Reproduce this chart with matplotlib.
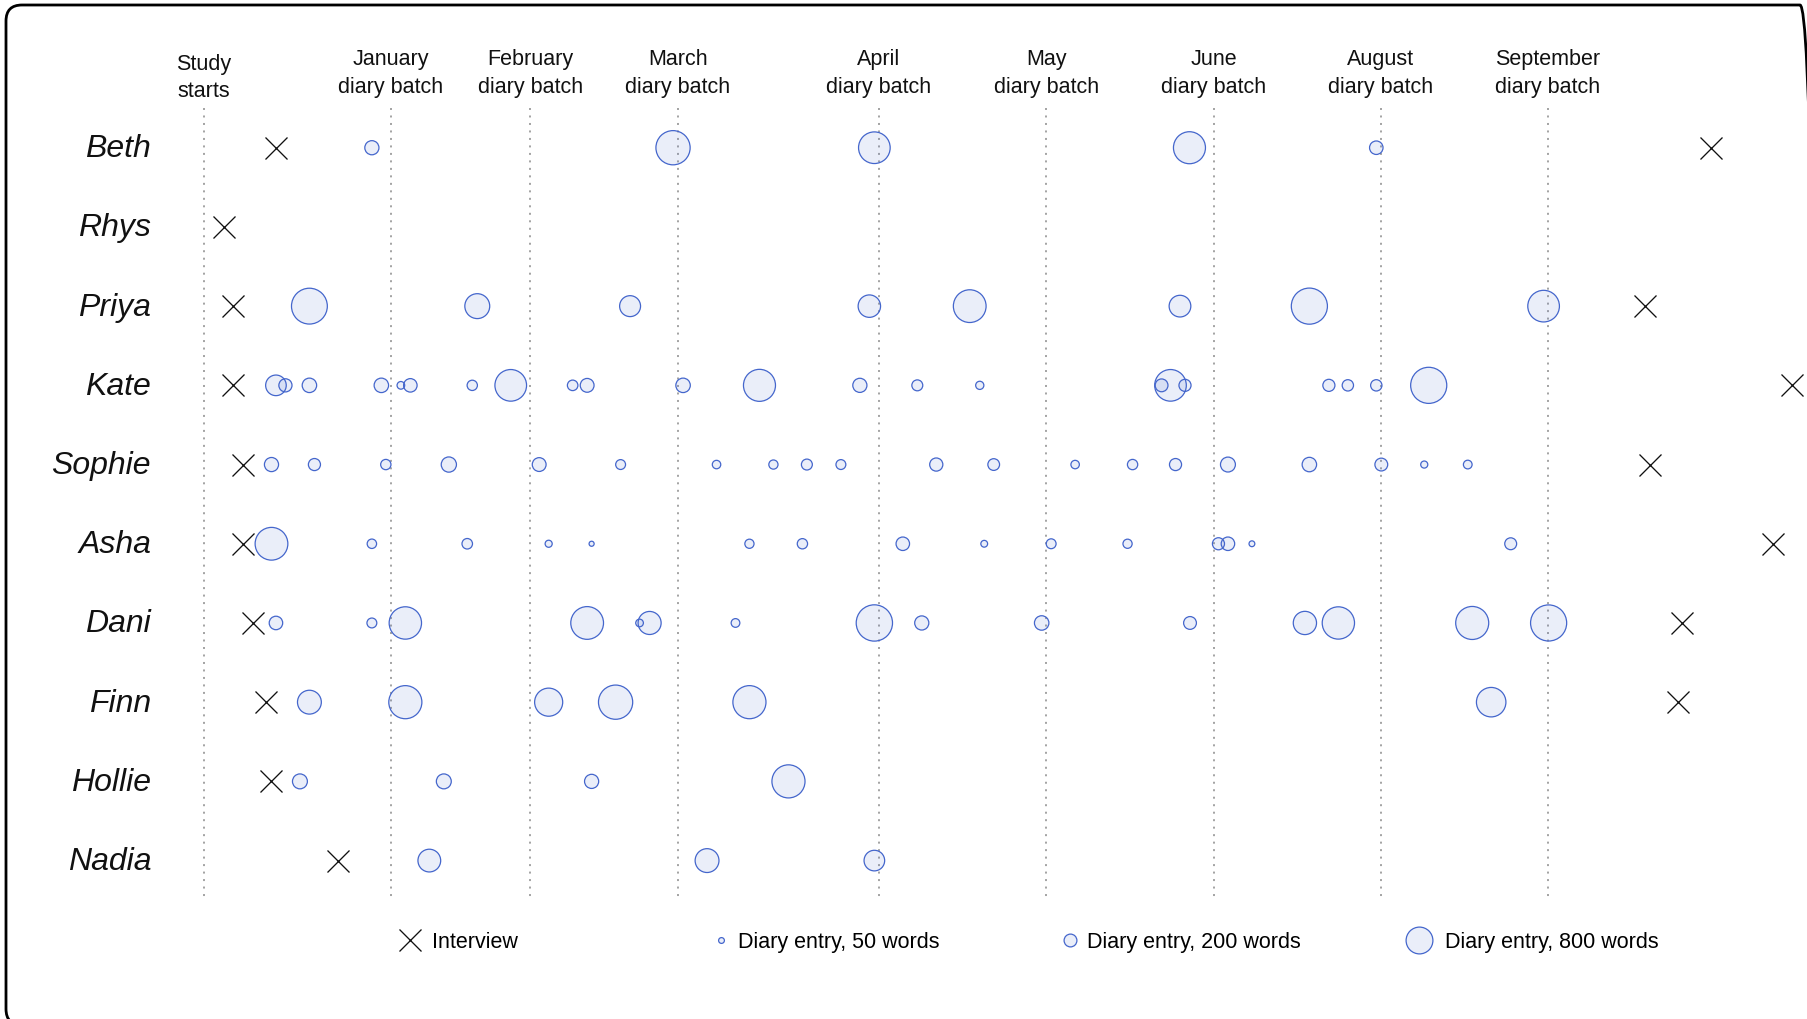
import numpy as np
import matplotlib
matplotlib.use("Agg")
import matplotlib.pyplot as plt
from matplotlib.patches import FancyBboxPatch
from matplotlib.transforms import IdentityTransform

# ------------------------------------------------------------
# Data (x = days since the study started)
# ------------------------------------------------------------
participants = ["Beth", "Rhys", "Priya", "Kate", "Sophie",
                "Asha", "Dani", "Finn", "Hollie", "Nadia"]

batch_labels = ["Study\nstarts", "January\ndiary batch", "February\ndiary batch",
                "March\ndiary batch", "April\ndiary batch", "May\ndiary batch",
                "June\ndiary batch", "August\ndiary batch", "September\ndiary batch"]
batch_days = [0, 33.5, 58.5, 85.0, 121.0, 151.0, 181.1, 211.0, 241.0]

interview_days = {
    "Beth": [12.9, 270.2],
    "Rhys": [3.5],
    "Priya": [5.2, 258.3],
    "Kate": [5.2, 284.8],
    "Sophie": [7.0, 259.2],
    "Asha": [7.0, 281.4],
    "Dani": [8.7, 265.1],
    "Finn": [11.2, 264.3],
    "Hollie": [12.1],
    "Nadia": [24.1],
}

diary_days = {
    "Beth": [30.1, 84.1, 120.2, 176.7, 210.2],
    "Rhys": [],
    "Priya": [18.9, 49.0, 76.4, 119.3, 137.3, 175.0, 198.2, 240.2],
    "Kate": [12.9, 14.6, 18.9, 31.8, 35.3, 37.0, 48.1, 55.0, 66.1, 68.7, 85.9,
             99.6, 117.6, 127.9, 139.1, 171.7, 173.3, 175.9, 201.7, 205.1,
             210.2, 219.6],
    "Sophie": [12.1, 19.8, 32.6, 43.9, 60.1, 74.7, 91.9, 102.1, 108.1, 114.2,
               131.3, 141.6, 156.2, 166.5, 174.2, 183.6, 198.2, 211.1, 218.8,
               226.6],
    "Asha": [12.1, 30.1, 47.2, 61.8, 69.5, 97.8, 107.3, 125.3, 139.9, 151.9,
             165.6, 181.9, 183.6, 187.9, 234.3],
    "Dani": [12.9, 30.1, 36.1, 68.7, 79.9, 78.1, 95.3, 120.2, 128.7, 150.2,
             176.8, 197.4, 203.4, 227.4, 241.1],
    "Finn": [18.9, 36.1, 61.8, 73.8, 97.8, 230.8],
    "Hollie": [17.2, 43.0, 69.5, 104.8],
    "Nadia": [40.4, 90.2, 120.2],
}

diary_words = {
    "Beth": [240, 1280, 1100, 1125, 220],
    "Rhys": [],
    "Priya": [1400, 695, 500, 570, 1175, 535, 1420, 1100],
    "Kate": [485, 210, 250, 250, 80, 220, 135, 1100, 140, 230, 250,
             1125, 240, 150, 90, 200, 1100, 180, 180, 160, 160, 1420],
    "Sophie": [240, 180, 135, 275, 230, 125, 95, 110, 150, 125,
               210, 170, 95, 135, 180, 265, 250, 200, 70, 100],
    "Asha": [1175, 115, 140, 70, 40, 110, 135, 220, 65, 125,
             110, 180, 220, 50, 175],
    "Dani": [220, 125, 1150, 1175, 600, 80, 100, 1435, 240, 250,
             200, 610, 1145, 1195, 1420],
    "Finn": [640, 1200, 875, 1280, 1200, 960],
    "Hollie": [265, 265, 240, 1200],
    "Nadia": [585, 640, 485],
}

legend_words = [50, 200, 800]

# ------------------------------------------------------------
# Styling
# ------------------------------------------------------------
DPI = 100
FONT = ["Liberation Sans", "DejaVu Sans"]
EDGE = "#4466cc"
FILL = (0.27, 0.40, 0.80, 0.11)
plt.rcParams["font.family"] = FONT


def word_area(words):
    # circle area proportional to word count (50 words ~ 7 px across)
    d_px = 7.0 * np.sqrt(np.asarray(words, dtype=float) / 50.0) - 1.2
    return (d_px * 72.0 / DPI) ** 2


fig = plt.figure(figsize=(18.07, 10.19), dpi=DPI)
ax = fig.add_axes([0, 0, 1, 1])
ax.set_xlim(-36.58, 287.43)
ax.set_ylim(11.0, -1.865)
ax.axis("off")

# batch lines + headers
for day, label in zip(batch_days, batch_labels):
    ax.plot([day, day], [-0.5, 9.47], color="#8a8a8a", lw=1.1,
            dashes=(1.3, 3.6), zorder=1)
    y_lab = -0.575 if label.startswith("Study") else -0.63
    ax.text(day, y_lab, label, ha="center", va="bottom", fontsize=15.5,
            linespacing=1.4, color="#111111")

# participant rows
for i, name in enumerate(participants):
    ax.text(-9.5, i + 0.12, name, ha="right", va="baseline", fontsize=23,
            style="italic", color="#111111")
    days = diary_days[name]
    if days:
        ax.scatter(days, [i] * len(days), s=word_area(diary_words[name]),
                   facecolor=FILL, edgecolor=EDGE, linewidth=0.9, zorder=3)
    iv = interview_days[name]
    ax.plot(iv, [i] * len(iv), linestyle="none", marker="x", markersize=16.5,
            markeredgewidth=0.95, color="#111111", zorder=4)

# legend row
leg_y = 10.0
ax.plot([36.9], [leg_y], linestyle="none", marker="x", markersize=16.5,
        markeredgewidth=0.95, color="#111111")
ax.text(40.9, leg_y + 0.1, "Interview", ha="left", va="baseline", fontsize=15.5)
for x_key, x_txt, w in zip([92.7, 155.3, 217.9], [95.8, 158.3, 222.5], legend_words):
    ax.scatter([x_key], [leg_y], s=word_area([w]), facecolor=FILL,
               edgecolor=EDGE, linewidth=0.9, zorder=3)
    ax.text(x_txt, leg_y + 0.1, f"Diary entry, {w} words", ha="left",
            va="baseline", fontsize=15.5)

# rounded outer frame (pixel coordinates), right/bottom edges run off the canvas
frame = FancyBboxPatch((6, -6), 1810, 1020,
                       boxstyle="round,pad=0,rounding_size=16",
                       transform=IdentityTransform(), fill=False,
                       edgecolor="black", linewidth=2.0)
fig.patches.append(frame)

fig.savefig("out.png", dpi=DPI)
